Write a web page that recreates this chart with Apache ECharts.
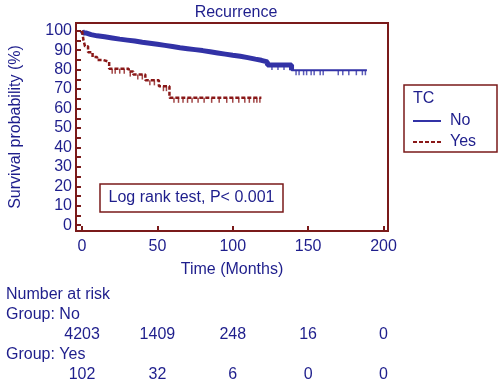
<!DOCTYPE html>
<html>
<head>
<meta charset="utf-8">
<script src="https://cdn.jsdelivr.net/npm/echarts@6/dist/echarts.min.js"></script>
<style>
  html, body { margin: 0; padding: 0; background: #fff; }
  #chart { width: 500px; height: 387px; }
</style>
</head>
<body>
<div id="chart"></div>
<script>
// Kaplan-Meier steps
const noTime = [0, 1, 3, 6, 10, 15, 20, 25, 30, 35, 40, 45, 50, 55, 60, 65, 70, 75, 80, 85, 90, 95, 100, 105, 110, 115, 119, 123, 139, 189];
const noSurv = [100, 98.8, 98.0, 97.4, 96.9, 96.3, 95.7, 95.2, 94.7, 94.1, 93.6, 93.1, 92.5, 91.9, 91.3, 90.8, 90.3, 89.8, 89.2, 88.6, 88.0, 87.4, 86.9, 86.2, 85.4, 84.8, 84.0, 82.4, 79.7, 79.7];
const noCensor = [126, 130, 134, 142, 144, 147, 149, 152, 154, 158, 160, 170, 173, 177, 182, 186, 188];

const yesTime = [0, 1, 2, 4, 7, 10, 14, 18, 31, 34, 42, 51, 58, 119];
const yesSurv = [100, 95, 92, 89, 86.5, 85, 84, 80.5, 79, 77.5, 74.5, 71.5, 65.5, 65.5];
const yesCensor = [20, 22, 25, 28, 32, 37, 40, 45, 48, 54, 56, 61, 64, 67, 70, 73, 77, 81, 86, 91, 96, 100, 104, 108, 111, 114, 116, 118];

const xTicks = [0, 50, 100, 150, 200];
const yTicks = [0, 5, 10, 15, 20, 25, 30, 35, 40, 45, 50, 55, 60, 65, 70, 75, 80, 85, 90, 95, 100];
const yLabels = [0, 10, 20, 30, 40, 50, 60, 70, 80, 90, 100];

const riskTimes = [0, 50, 100, 150, 200];
const riskNo = [4203, 1409, 248, 16, 0];
const riskYes = [102, 32, 6, 0, 0];

const textColor = '#1e1e8c';
const blue = '#3232a6';
const red = '#8a1818';
const frame = '#7a1a1a';
const font = 'Liberation Sans';

function survAt(times, surv, t) {
  let v = surv[0];
  for (let i = 0; i < times.length; i++) {
    if (times[i] <= t) v = surv[i];
  }
  return v;
}

const noData = noTime.map((t, i) => [t, noSurv[i]]);
const yesData = yesTime.map((t, i) => [t, yesSurv[i]]);

const riskAxis = (offset, counts) => ({
  type: 'value', min: -4, max: 203, position: 'bottom', offset: offset,
  axisLine: {show: false}, axisTick: {show: false}, splitLine: {show: false},
  axisLabel: {
    customValues: riskTimes,
    formatter: v => String(counts[riskTimes.indexOf(v)]),
    verticalAlign: 'middle', margin: 0,
    color: textColor, fontSize: 16, fontFamily: font
  }
});

const myChart = echarts.init(document.getElementById('chart'));
const option = {
  animation: false,
  title: {
    text: 'Recurrence',
    left: 231, top: 0, textAlign: 'center',
    textStyle: {color: textColor, fontSize: 16, fontWeight: 'normal', fontFamily: font}
  },
  grid: {left: 74, right: 112, top: 23, bottom: 156, show: true, borderColor: frame, borderWidth: 2},
  legend: {
    data: ['No', 'Yes'],
    orient: 'vertical', left: 412, top: 113, padding: 0,
    itemWidth: 28, itemHeight: 14, itemGap: 5,
    itemStyle: {opacity: 0},
    textStyle: {color: textColor, fontSize: 16, fontFamily: font, padding: [0, 0, 0, 4]}
  },
  xAxis: [{
    type: 'value', min: -4, max: 203,
    name: 'Time (Months)', nameLocation: 'middle', nameGap: 31,
    nameTextStyle: {color: textColor, fontSize: 16, fontFamily: font},
    axisLine: {onZero: false, lineStyle: {color: frame, width: 2}},
    axisTick: {inside: true, length: 5, customValues: xTicks, lineStyle: {color: frame, width: 2}},
    axisLabel: {customValues: xTicks, color: textColor, fontSize: 16, fontFamily: font, margin: 8},
    splitLine: {show: false}
  }, riskAxis(104, riskNo), riskAxis(144, riskYes)],
  yAxis: {
    type: 'value', min: -3, max: 104,
    name: 'Survival probability (%)', nameLocation: 'middle', nameGap: 52,
    nameTextStyle: {color: textColor, fontSize: 16, fontFamily: font},
    axisLine: {onZero: false, lineStyle: {color: frame, width: 2}},
    axisTick: {inside: true, length: 5, customValues: yTicks, lineStyle: {color: frame, width: 2}},
    axisLabel: {customValues: yLabels, color: textColor, fontSize: 16, fontFamily: font, margin: 4},
    splitLine: {show: false}
  },
  series: [
    {
      name: 'No', type: 'line', step: 'end', data: noData, symbol: 'none',
      lineStyle: {color: blue, width: 2}, itemStyle: {color: blue}
    },
    {
      name: 'No dense', type: 'line', step: 'end', silent: true,
      data: noData.filter(d => d[0] <= 139), symbol: 'none',
      lineStyle: {color: blue, width: 5}
    },
    {
      name: 'No censored', type: 'scatter', silent: true,
      data: noCensor.map(t => [t, survAt(noTime, noSurv, t)]),
      symbol: 'rect', symbolSize: [1.5, 5], symbolOffset: [0, 2.5],
      itemStyle: {color: blue}
    },
    {
      name: 'Yes', type: 'line', step: 'end', data: yesData, symbol: 'none',
      lineStyle: {color: red, width: 2.5, type: [4, 2]}, itemStyle: {color: red}
    },
    {
      name: 'Yes censored', type: 'scatter', silent: true,
      data: yesCensor.map(t => [t, survAt(yesTime, yesSurv, t)]),
      symbol: 'rect', symbolSize: [1.5, 5], symbolOffset: [0, 2.5],
      itemStyle: {color: red}
    }
  ],
  graphic: [
    {type: 'rect', shape: {x: 100, y: 184, width: 183, height: 28},
     style: {fill: '#fff', stroke: frame, lineWidth: 1.5}, z: 10},
    {type: 'text', x: 191.5, y: 198, z: 11,
     style: {text: 'Log rank test, P< 0.001', align: 'center', verticalAlign: 'middle',
             fill: textColor, font: '16px "Liberation Sans"'}},
    {type: 'rect', shape: {x: 404, y: 85, width: 93, height: 67},
     style: {fill: 'none', stroke: frame, lineWidth: 1.5}},
    {type: 'text', x: 413, y: 99,
     style: {text: 'TC', verticalAlign: 'middle', fill: textColor, font: '16px "Liberation Sans"'}},
    {type: 'text', x: 6, y: 295,
     style: {text: 'Number at risk', verticalAlign: 'middle', fill: textColor, font: '16px "Liberation Sans"'}},
    {type: 'text', x: 6, y: 315,
     style: {text: 'Group: No', verticalAlign: 'middle', fill: textColor, font: '16px "Liberation Sans"'}},
    {type: 'text', x: 6, y: 355,
     style: {text: 'Group: Yes', verticalAlign: 'middle', fill: textColor, font: '16px "Liberation Sans"'}}
  ]
};
myChart.setOption(option);
</script>
</body>
</html>
